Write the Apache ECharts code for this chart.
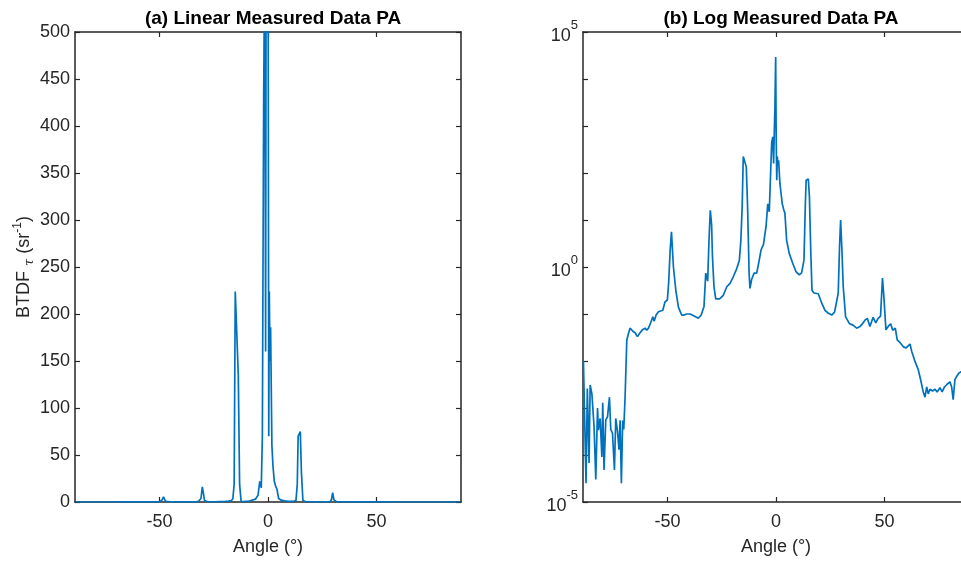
<!DOCTYPE html>
<html>
<head>
<meta charset="utf-8">
<script src="https://cdn.jsdelivr.net/npm/echarts@6/dist/echarts.min.js"></script>
<style>
  html, body { margin: 0; padding: 0; background: #fff; }
  #chart { width: 961px; height: 563px; }
</style>
</head>
<body>
<div id="chart"></div>
<script>
// Measured BTDF of the PA sample versus scattering angle
const angles = [
  -88.8, -87.6, -87.0, -86.2, -85.7, -84.9, -84.5, -83.9, -83.1, -82.3,
  -81.9, -81.1, -80.3, -79.9, -79.3, -78.5, -77.7, -76.8, -76.2, -75.4,
  -74.5, -73.9, -73.1, -72.4, -71.9, -71.3, -70.7, -70.2, -69.6, -68.8,
  -68.0, -67.3, -66.5, -66.0, -65.0, -63.9, -62.7, -61.4, -60.4, -59.6,
  -58.8, -57.8, -56.8, -56.2, -55.3, -54.2, -53.5, -52.2, -51.2, -50.1,
  -49.5, -48.8, -48.2, -47.3, -46.2, -45.0, -43.5, -42.4, -41.2, -39.6,
  -38.9, -37.5, -35.8, -34.5, -33.2, -32.4, -32.0, -31.5, -30.9, -30.3,
  -29.7, -29.3, -28.6, -27.8, -26.0, -24.3, -22.7, -21.2, -19.7, -18.2,
  -16.9, -16.2, -15.6, -15.1, -14.3, -13.7, -13.1, -12.4, -12.0, -11.2,
  -10.1, -8.9, -8.0, -6.9, -5.8, -4.6, -3.8, -3.4, -3.1, -2.6,
  -2.0, -1.5, -1.1, -0.8, -0.5, -0.15, 0.1, 0.35, 0.6, 0.9,
  1.2, 1.8, 2.3, 2.9, 3.5, 4.1, 4.9, 6.1, 7.7, 9.2,
  10.7, 11.8, 12.9, 13.5, 13.9, 14.4, 14.9, 15.4, 16.1, 16.6,
  17.5, 19.5, 21.1, 22.6, 24.0, 25.7, 27.0, 28.7, 29.3, 29.8,
  30.4, 31.0, 31.6, 32.1, 33.8, 35.5, 37.2, 38.7, 39.6, 41.0,
  42.1, 43.3, 44.8, 46.0, 47.0, 48.2, 49.1, 49.7, 50.7, 51.8,
  52.9, 53.8, 55.0, 55.9, 57.1, 58.7, 60.0, 61.8, 62.6, 64.1,
  65.6, 66.7, 67.9, 68.7, 69.5, 70.2, 71.0, 72.2, 73.3, 74.3,
  75.6, 76.6, 77.7, 78.9, 80.2, 81.0, 81.7, 82.5, 83.3, 84.3,
  85.5, 87.0, 88.8
];

const btdf = [
  1.0e-2, 2.5e-5, 2.6e-3, 6.8e-5, 3.1e-3, 2.0e-3, 2.2e-3, 4.0e-4, 3.0e-5, 1.0e-3,
  3.4e-4, 6.0e-4, 9.1e-5, 1.3e-3, 4.8e-5, 5.6e-4, 6.5e-4, 1.7e-3, 3.5e-4, 2.9e-4,
  4.8e-5, 6.0e-4, 3.2e-4, 1.3e-4, 5.5e-4, 2.5e-5, 5.4e-4, 3.5e-4, 1.7e-3, 2.8e-2,
  3.9e-2, 5.0e-2, 5.3e-2, 4.3e-2, 4.0e-2, 3.3e-2, 4.0e-2, 4.7e-2, 5.0e-2, 4.5e-2,
  5.0e-2, 6.5e-2, 8.7e-2, 7.0e-2, 9.5e-2, 0.112, 0.112, 0.12, 0.18, 0.2,
  0.46, 2.3, 5.6, 1.0, 0.32, 0.14, 0.095, 0.095, 0.1, 0.1,
  0.095, 0.09, 0.081, 0.095, 0.145, 0.74, 0.8, 0.5, 3.7, 16,
  8, 1.66, 0.38, 0.21, 0.21, 0.25, 0.38, 0.45, 0.62, 0.9,
  1.4, 3.7, 19, 224, 224, 135, 19, 0.74, 0.35, 0.55,
  0.74, 0.74, 1.2, 2.3, 3.0, 7.2, 22, 24, 15, 70,
  430, 590, 160, 700, 2570, 29500, 500, 70, 224, 150,
  186, 60, 38, 22, 17, 14, 3.7, 1.95, 1.2, 0.8,
  0.68, 0.75, 1.4, 19, 70, 72, 75, 32, 1.66, 0.32,
  0.28, 0.27, 0.17, 0.12, 0.105, 0.095, 0.11, 0.28, 2.7, 10,
  2.3, 0.38, 0.38, 0.087, 0.063, 0.058, 0.05, 0.054, 0.06, 0.074,
  0.081, 0.054, 0.085, 0.065, 0.08, 0.09, 0.58, 0.25, 0.046, 0.055,
  0.062, 0.045, 0.05, 0.028, 0.025, 0.02, 0.019, 0.023, 0.016, 0.0098,
  0.0065, 0.004, 0.0022, 0.0017, 0.0028, 0.002, 0.0025, 0.0023, 0.0025, 0.0022,
  0.0027, 0.0022, 0.0028, 0.0032, 0.0036, 0.0028, 0.0015, 0.004, 0.0047, 0.0055,
  0.006, 0.007, 0.008
];

const angleTicks = [-50, 0, 50];
const logLabelTicks = [1e-5, 1, 1e5];
const logTicks = [1e-5, 1e-4, 1e-3, 1e-2, 1e-1, 1, 1e1, 1e2, 1e3, 1e4, 1e5];

const titles = ['(a) Linear Measured Data PA', '(b) Log Measured Data PA'];

const FONT = 'Liberation Sans, Arial, sans-serif';
const AX = '#262626';
const LINE = '#0072BD';

const points = angles.map((a, i) => [a, btdf[i]]);

const axisLineStyle = { show: true, onZero: false, lineStyle: { color: AX, width: 1.5 } };
const tickStyle = { lineStyle: { color: AX, width: 1.2 } };

function xAxisPair(gridIndex) {
  return [
    {
      gridIndex, type: 'value', position: 'bottom', min: -89, max: 89,
      axisLine: axisLineStyle,
      axisTick: Object.assign({ inside: true, length: 5, customValues: angleTicks }, tickStyle),
      axisLabel: { customValues: angleTicks, color: AX, fontSize: 18, fontFamily: FONT, margin: 11 },
      splitLine: { show: false },
      name: 'Angle (°)', nameLocation: 'middle', nameGap: 36,
      nameTextStyle: { color: AX, fontSize: 18, fontFamily: FONT }
    },
    {
      gridIndex, type: 'value', position: 'top', min: -89, max: 89,
      axisLine: axisLineStyle,
      axisTick: Object.assign({ inside: true, length: 5, customValues: angleTicks }, tickStyle),
      axisLabel: { show: false },
      splitLine: { show: false }
    }
  ];
}

const supRich = {
  b: { fontSize: 18, fontFamily: FONT, color: AX, lineHeight: 26, verticalAlign: 'bottom' },
  s: { fontSize: 13, fontFamily: FONT, color: AX, lineHeight: 26, verticalAlign: 'top', padding: [0, 0, 12, 0] }
};

const option = {
  animation: false,
  backgroundColor: '#ffffff',
  title: titles.map((t, i) => ({
    text: t,
    left: i === 0 ? 268 : 776,
    top: 4,
    textAlign: 'center',
    textStyle: { fontFamily: FONT, fontSize: 19, fontWeight: 'bold', color: '#000' }
  })),
  grid: [
    { left: 75, top: 32, width: 386, height: 470, containLabel: false, outerBoundsMode: 'none' },
    { left: 583, top: 32, width: 386, height: 470, containLabel: false, outerBoundsMode: 'none' }
  ],
  xAxis: [...xAxisPair(0), ...xAxisPair(1)],
  yAxis: [
    {
      gridIndex: 0, type: 'value', position: 'left', min: 0, max: 500, interval: 50,
      axisLine: axisLineStyle,
      axisTick: Object.assign({ inside: true, length: 5 }, tickStyle),
      axisLabel: { color: AX, fontSize: 18, fontFamily: FONT, margin: 5 },
      splitLine: { show: false },
      name: 'BTDF {t|τ} (sr{s|-1})', nameLocation: 'middle', nameGap: 38,
      nameTextStyle: {
        color: AX, fontSize: 18, fontFamily: FONT,
        rich: {
          t: { fontSize: 13, fontStyle: 'italic', fontFamily: 'DejaVu Serif, serif', color: AX, lineHeight: 24, verticalAlign: 'bottom' },
          s: { fontSize: 12, fontFamily: FONT, color: AX, lineHeight: 24, verticalAlign: 'top', padding: [0, 0, 12, 0] }
        }
      }
    },
    {
      gridIndex: 0, type: 'value', position: 'right', min: 0, max: 500, interval: 50,
      axisLine: axisLineStyle,
      axisTick: Object.assign({ inside: true, length: 5 }, tickStyle),
      axisLabel: { show: false },
      splitLine: { show: false }
    },
    {
      gridIndex: 1, type: 'log', logBase: 10, position: 'left', min: 1e-5, max: 1e5,
      axisLine: axisLineStyle,
      axisTick: Object.assign({ inside: true, length: 5, customValues: logTicks }, tickStyle),
      axisLabel: {
        customValues: logLabelTicks, margin: 5,
        formatter: v => '{b|10}{s|' + Math.round(Math.log10(v)) + '}',
        rich: supRich
      },
      splitLine: { show: false }
    },
    {
      gridIndex: 1, type: 'log', logBase: 10, position: 'right', min: 1e-5, max: 1e5,
      axisLine: axisLineStyle,
      axisTick: Object.assign({ inside: true, length: 5, customValues: logTicks }, tickStyle),
      axisLabel: { show: false },
      splitLine: { show: false }
    }
  ],
  series: [
    {
      type: 'line', xAxisIndex: 0, yAxisIndex: 0, data: points,
      showSymbol: false, symbol: 'none', clip: true,
      lineStyle: { color: LINE, width: 1.7 }
    },
    {
      type: 'line', xAxisIndex: 2, yAxisIndex: 2, data: points,
      showSymbol: false, symbol: 'none', clip: true,
      lineStyle: { color: LINE, width: 1.7 }
    }
  ]
};

const chart = echarts.init(document.getElementById('chart'), null, { renderer: 'canvas' });
chart.setOption(option);
</script>
</body>
</html>
